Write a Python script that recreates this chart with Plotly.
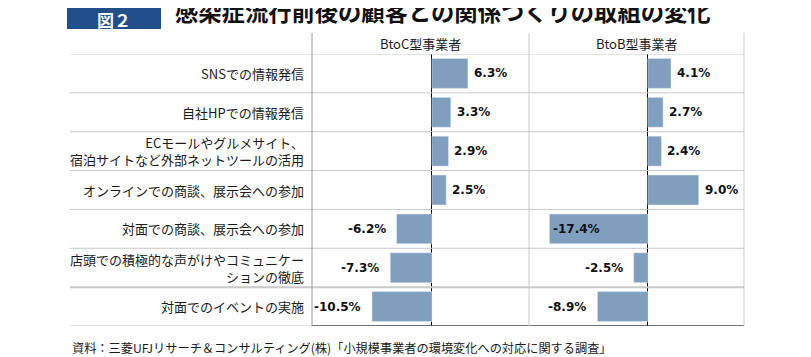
import plotly.graph_objects as go

categories = [
    "SNSでの情報発信",
    "自社HPでの情報発信",
    "ECモールやグルメサイト、<br>宿泊サイトなど外部ネットツールの活用",
    "オンラインでの商談、展示会への参加",
    "対面での商談、展示会への参加",
    "店頭での積極的な声がけやコミュニケー<br>ションの徹底",
    "対面でのイベントの実施",
]
btoc_values = [6.3, 3.3, 2.9, 2.5, -6.2, -7.3, -10.5]
btob_values = [4.1, 2.7, 2.4, 9.0, -17.4, -2.5, -8.9]
panel_titles = ["BtoC型事業者", "BtoB型事業者"]
title_text = "感染症流行前後の顧客との関係つくりの取組の変化"
fig_label = "図２"
source_text = "資料：三菱UFJリサーチ＆コンサルティング(株)「小規模事業者の環境変化への対応に関する調査」"

# page body has an 8px default margin; compensate so the figure lands where the reference is
OFF = 8
W, H = 811 - OFF, 357 - OFF
def px(x): return (x - OFF) / W
def py(y): return 1 - (y - OFF) / H

X_RANGE = [-21, 17]
BAR_COLOR = "#809FBF"
GRID = "#c9c9c9"
CJK = "Noto Sans CJK JP"
NUM = "DejaVu Sans"

n = len(categories)
ypos = list(range(n))

fig = go.Figure()
fig.add_trace(go.Bar(x=btoc_values, y=ypos, orientation="h", marker_color=BAR_COLOR,
                     width=0.77, xaxis="x", yaxis="y", hoverinfo="skip", showlegend=False))
fig.add_trace(go.Bar(x=btob_values, y=ypos, orientation="h", marker_color=BAR_COLOR,
                     width=0.77, xaxis="x2", yaxis="y", hoverinfo="skip", showlegend=False))

top_row, bottom_row = 54, 326
dom_c = [px(312), px(529)]
dom_b = [px(529), px(744)]
axis_common = dict(range=X_RANGE, showgrid=False, showticklabels=False, ticks="",
                   zeroline=True, zerolinecolor="#000000", zerolinewidth=1.2,
                   showline=False, fixedrange=True)
fig.update_layout(
    width=W, height=H, margin=dict(l=0, r=0, t=0, b=0),
    paper_bgcolor="white", plot_bgcolor="rgba(0,0,0,0)",
    xaxis=dict(domain=dom_c, anchor="y", **axis_common),
    xaxis2=dict(domain=dom_b, anchor="y", **axis_common),
    yaxis=dict(domain=[py(bottom_row), py(top_row)], range=[n - 0.5, -0.5],
               showgrid=False, showticklabels=False, zeroline=False, ticks="", fixedrange=True),
    bargap=0.2,
)

shapes = []
for i in range(n + 1):
    yv = i - 0.5
    shapes.append(dict(type="line", xref="paper", yref="y", x0=px(70), x1=px(744), y0=yv, y1=yv,
                       line=dict(color=GRID, width=2 if i == n - 1 else 1)))
shapes.append(dict(type="line", xref="paper", yref="y", x0=px(312), x1=px(744), y0=n - 0.5, y1=n - 0.5,
                   line=dict(color="#000000", width=1.2)))
for xv, col in [(312, "#9a9a9a"), (529, GRID), (744, GRID)]:
    shapes.append(dict(type="line", xref="paper", yref="paper", x0=px(xv), x1=px(xv),
                       y0=py(33), y1=py(bottom_row), line=dict(color=col, width=1)))
shapes.append(dict(type="rect", xref="paper", yref="paper", x0=px(67), x1=px(161), y0=py(29), y1=py(0),
                   fillcolor="#1F4E89", line=dict(width=0)))
fig.update_layout(shapes=shapes)

ann = []
ann.append(dict(text=fig_label, xref="paper", yref="paper", x=px(114), y=py(19.5), showarrow=False,
                xanchor="center", yanchor="middle", font=dict(family=CJK, size=17, color="white", weight="bold")))
ann.append(dict(text=title_text, xref="paper", yref="paper", x=px(173), y=py(11), showarrow=False,
                xanchor="left", yanchor="middle", font=dict(family=CJK, size=23.3, color="#111111", weight="bold")))
for t, (a, b) in zip(panel_titles, [(312, 529), (529, 744)]):
    ann.append(dict(text=t, xref="paper", yref="paper", x=px((a + b) / 2), y=py(43.5), showarrow=False,
                    xanchor="center", yanchor="middle", font=dict(family=CJK, size=13, color="#1a1a1a")))
for i, c in enumerate(categories):
    ann.append(dict(text=c, xref="paper", yref="y", x=px(306), y=i, showarrow=False, align="right",
                    xanchor="right", yanchor="middle", font=dict(family=CJK, size=13, color="#1a1a1a")))

CHAR_W = {".": 4.6, "%": 12.0, "-": 5.0}
def label_width(s):
    return sum(CHAR_W.get(ch, 8.35) for ch in s)

px_per_unit = (529 - 312) / (X_RANGE[1] - X_RANGE[0])
for axname, vals in [("x", btoc_values), ("x2", btob_values)]:
    for i, v in enumerate(vals):
        label = f"{v:.1f}%"
        if v >= 0:
            a = dict(x=v, xanchor="left", xshift=4)
        else:
            room = (v - X_RANGE[0]) * px_per_unit
            if room < label_width(label) + 10:
                a = dict(x=v, xanchor="left", xshift=2)
            else:
                a = dict(x=v, xanchor="right", xshift=-9)
        ann.append(dict(text=label, xref=axname, yref="y", y=i, showarrow=False, yanchor="middle",
                        font=dict(family=NUM, size=12, color="#111111", weight="bold"), **a))
ann.append(dict(text=source_text, xref="paper", yref="paper", x=px(70), y=py(348), showarrow=False,
                xanchor="left", yanchor="middle", font=dict(family=CJK, size=12.2, color="#1a1a1a")))
fig.update_layout(annotations=ann)

fig.write_html("out.html")
